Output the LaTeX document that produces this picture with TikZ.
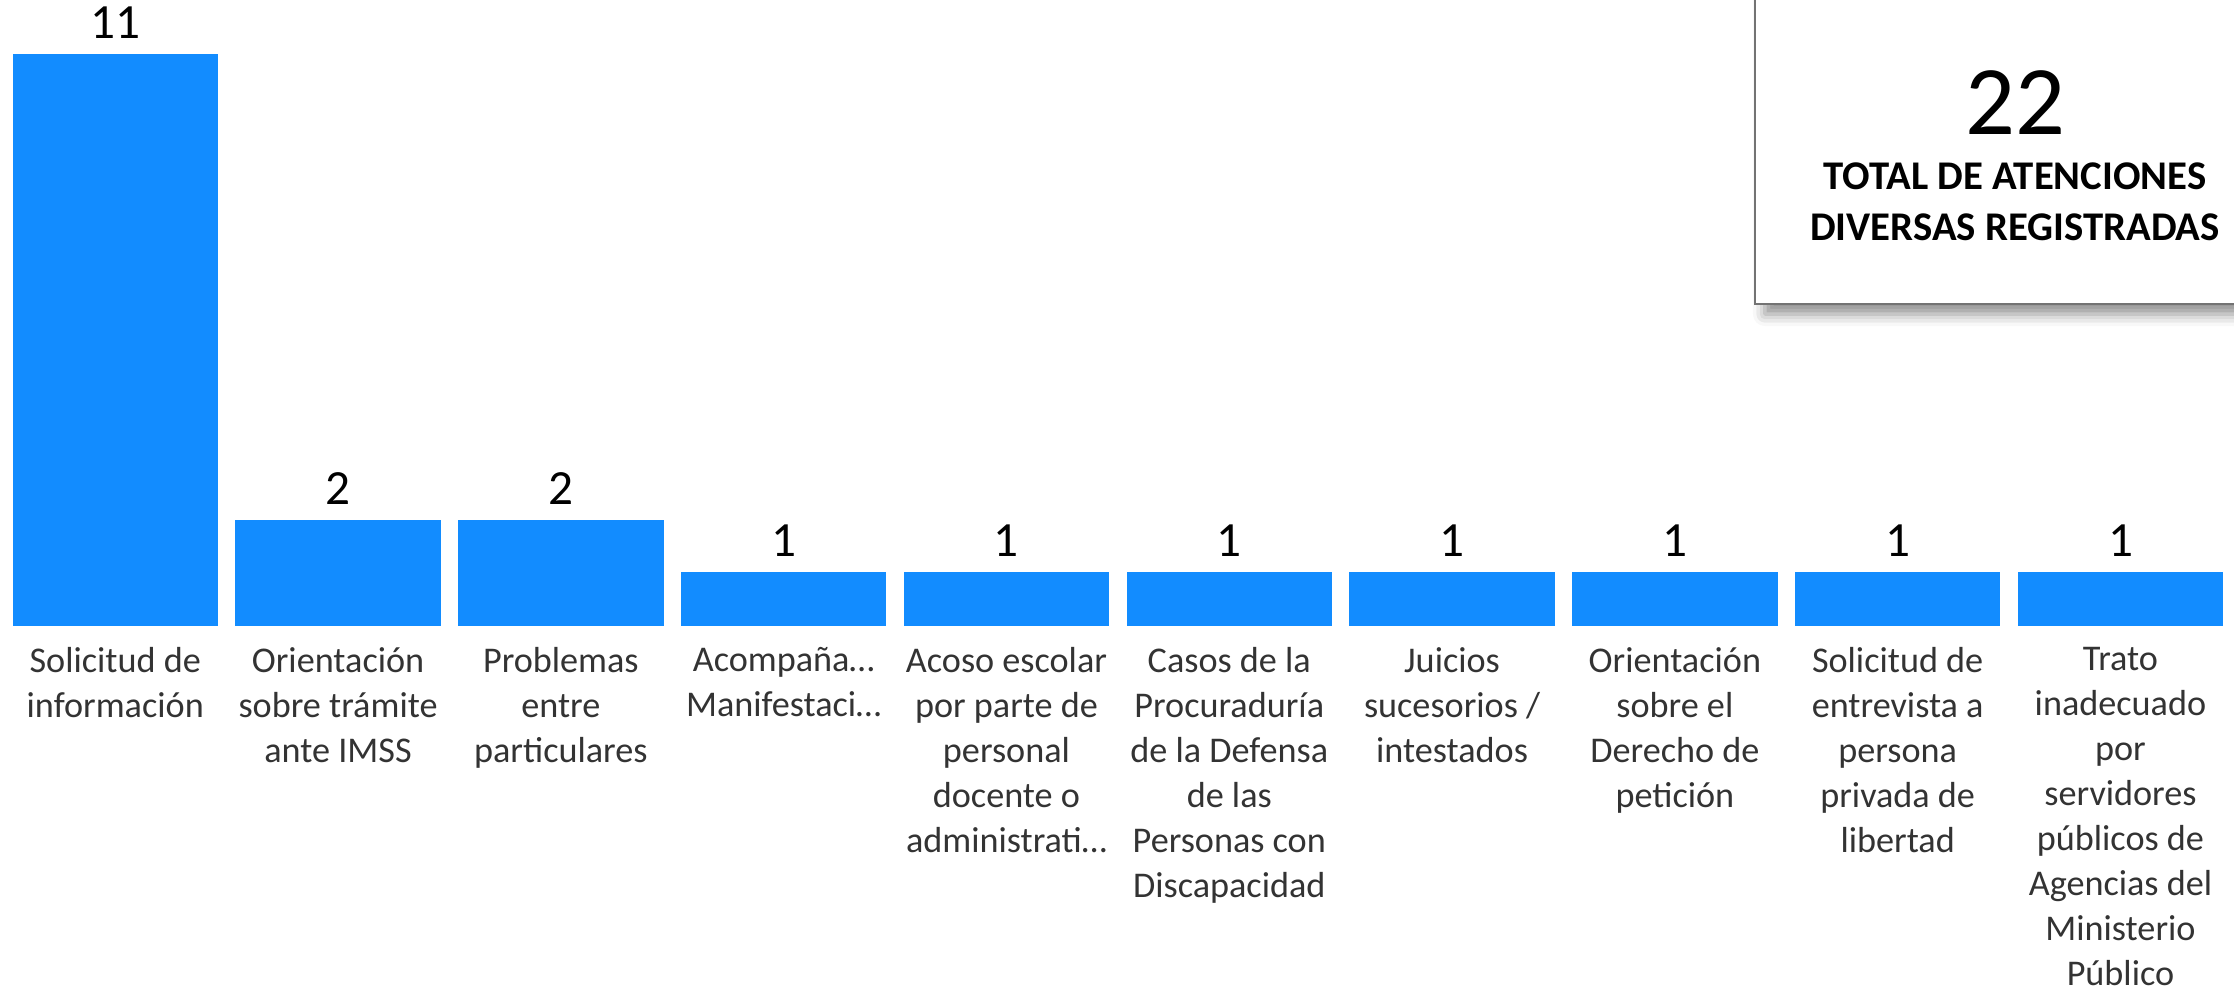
\documentclass[tikz,border=0pt]{standalone}
\usepackage[rgb]{xcolor}
\usepackage{fontspec}
\setmainfont{Carlito}
\usetikzlibrary{shadows.blur}
\definecolor{barblue}{RGB}{18,140,255}

\begin{document}
\begin{tikzpicture}
  \tikzset{bar/.style={fill=barblue,draw=none,anchor=south,minimum width=2.055cm,inner sep=0},
  val/.style={anchor=base,yshift=.15cm,inner sep=0,font=\fontsize{14}{17}\selectfont},
  cat/.style={anchor=north,yshift=-.195cm,inner sep=0,align=center,text=black!80,font=\fontsize{10.3}{12.8}\selectfont,execute at begin node=\strut},
  totalbox/.style={draw=black!55,line width=.8pt,fill=white,anchor=south west,minimum width=5.4cm,minimum height=3.8cm,blur shadow={shadow xshift=.1cm,shadow yshift=-.1cm,shadow blur radius=.12cm,shadow opacity=45}}}%bars, numbers and axis labels
\useasboundingbox (0,0) rectangle (22.34,9.96);
\node[bar,minimum height=5.72cm] (b1) at (1.1525,3.69) {};
\node[bar,minimum height=1.06cm] (b2) at (3.3805,3.69) {};
\node[bar,minimum height=1.06cm] (b3) at (5.6085,3.69) {};
\node[bar,minimum height=.543cm] (b4) at (7.8365,3.69) {};
\node[bar,minimum height=.543cm] (b5) at (10.0645,3.69) {};
\node[bar,minimum height=.543cm] (b6) at (12.2925,3.69) {};
\node[bar,minimum height=.543cm] (b7) at (14.5205,3.69) {};
\node[bar,minimum height=.543cm] (b8) at (16.7485,3.69) {};
\node[bar,minimum height=.543cm] (b9) at (18.9765,3.69) {};
\node[bar,minimum height=.543cm] (b10) at (21.2045,3.69) {};
\node[val] (v1) at (b1.north) {11};
\node[val] (v2) at (b2.north) {2};
\node[val] (v3) at (b3.north) {2};
\node[val] (v4) at (b4.north) {1};
\node[val] (v5) at (b5.north) {1};
\node[val] (v6) at (b6.north) {1};
\node[val] (v7) at (b7.north) {1};
\node[val] (v8) at (b8.north) {1};
\node[val] (v9) at (b9.north) {1};
\node[val] (v10) at (b10.north) {1};
\node[cat] (c1) at (b1.south) {Solicitud de\\información};
\node[cat] (c2) at (b2.south) {Orientación\\sobre trámite\\ante IMSS};
\node[cat] (c3) at (b3.south) {Problemas\\entre\\particulares};
\node[cat] (c4) at (b4.south) {Acompaña…\\Manifestaci…};
\node[cat] (c5) at (b5.south) {Acoso escolar\\por parte de\\personal\\docente o\\administrati…};
\node[cat] (c6) at (b6.south) {Casos de la\\Procuraduría\\de la Defensa\\de las\\Personas con\\Discapacidad};
\node[cat] (c7) at (b7.south) {Juicios\\sucesorios /\\intestados};
\node[cat] (c8) at (b8.south) {Orientación\\sobre el\\Derecho de\\petición};
\node[cat] (c9) at (b9.south) {Solicitud de\\entrevista a\\persona\\privada de\\libertad};
\node[cat] (c10) at (b10.south) {Trato\\inadecuado\\por\\servidores\\públicos de\\Agencias del\\Ministerio\\Público};
\node[totalbox] (tot) at (17.535,6.905) {};
\node[anchor=base,inner sep=0,font=\fontsize{28}{34}\selectfont] (n22) at (20.15,8.615) {22};
\node[anchor=north,inner sep=0,align=center,font=\fontsize{11.6}{14.5}\selectfont\bfseries,execute at begin node=\strut] (tl) at (20.15,8.342) {TOTAL DE ATENCIONES\\DIVERSAS REGISTRADAS};
\end{tikzpicture}
\end{document}
